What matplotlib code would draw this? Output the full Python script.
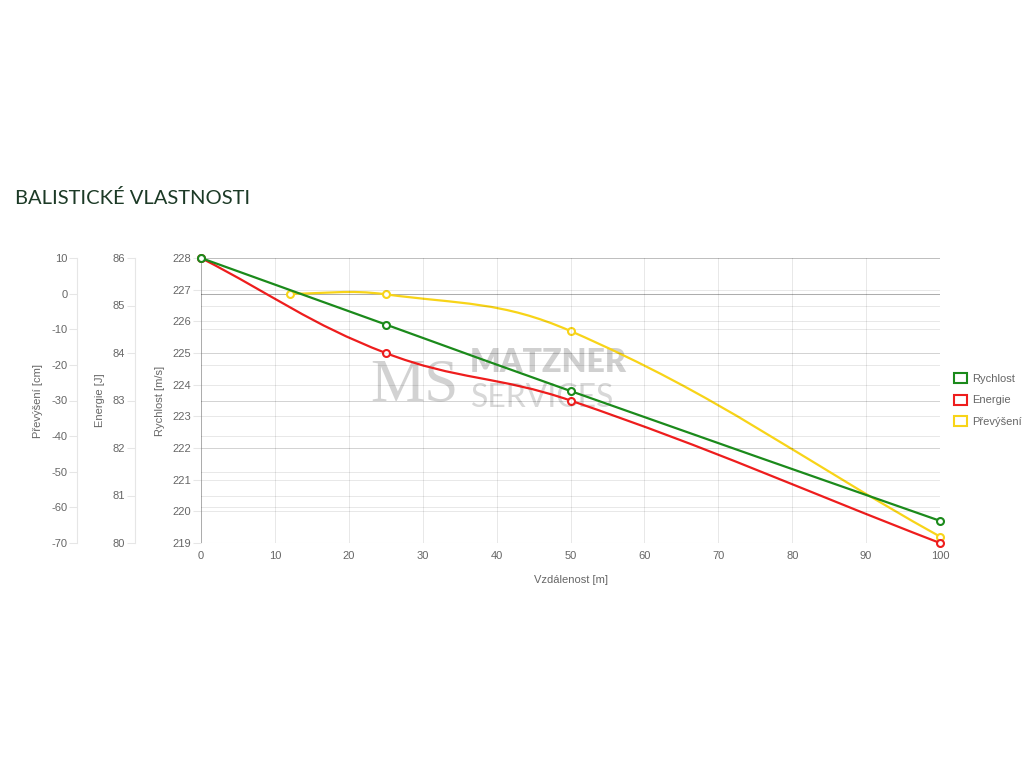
import numpy as np
import matplotlib
matplotlib.use("Agg")
from matplotlib import pyplot as plt
from matplotlib.path import Path
from matplotlib.patches import PathPatch, Patch

# data
dist_rych = [0, 25, 50, 100]
rychlost = [228, 225.9, 223.8, 219.7]
dist_ener = [0, 25, 50, 100]
energie = [86, 84.0, 83.0, 80.0]
dist_prev = [12, 25, 50, 100]
prevyseni = [0, -0.2, -10.5, -68.2]

x_ticks = list(range(0, 101, 10))
rych_ticks = list(range(219, 229))
ener_ticks = list(range(80, 87))
prev_ticks = list(range(-70, 11, 10))

c_green = '#1b8a1b'
c_red = '#ee1d1d'
c_yellow = '#f8d418'
txt_c = '#666666'
tick_c = '#e6e6e6'

plt.rcParams['font.family'] = ['Liberation Sans', 'DejaVu Sans']
plt.rcParams['axes.unicode_minus'] = False


def spline_path(ax, xs, ys, t=0.4):
    # chart.js style bezier (tension 0.4), control points computed in pixel space
    pts = ax.transData.transform(np.column_stack([xs, ys]))
    n = len(pts)
    cp_prev, cp_next = [], []
    for i in range(n):
        cur = pts[i]
        prv = pts[i-1] if i > 0 else cur
        nxt = pts[i+1] if i < n-1 else cur
        d01 = np.hypot(*(cur-prv))
        d12 = np.hypot(*(nxt-cur))
        tot = d01+d12
        s01 = d01/tot if tot else 0
        s12 = d12/tot if tot else 0
        cp_prev.append(cur-t*s01*(nxt-prv))
        cp_next.append(cur+t*s12*(nxt-prv))
    verts = [pts[0]]
    codes = [Path.MOVETO]
    for i in range(n-1):
        verts += [cp_next[i], cp_prev[i+1], pts[i+1]]
        codes += [Path.CURVE4]*3
    verts = ax.transData.inverted().transform(np.array(verts))
    return Path(verts, codes)


fig = plt.figure(figsize=(10.24, 7.68), dpi=100)
L, R, T, B = 201/1024, 940/1024, 1-258/768, 1-543/768
rect = [L, B, R-L, T-B]

ax_p = fig.add_axes(rect, zorder=1)
ax_e = fig.add_axes(rect, zorder=2, sharex=ax_p)
ax = fig.add_axes(rect, zorder=3, sharex=ax_p)

for a in (ax, ax_e, ax_p):
    a.set_facecolor('none')
    for s in a.spines.values():
        s.set_visible(False)

ax.set_xlim(0, 100)
ax.set_xticks(x_ticks)
ax.set_ylim(219, 228)
ax.set_yticks(rych_ticks)
ax_e.set_ylim(80, 86)
ax_e.set_yticks(ener_ticks)
ax_p.set_ylim(-70, 10)
ax_p.set_yticks(prev_ticks)

ax.tick_params(axis='x', length=0, pad=6, labelsize=8, labelcolor=txt_c)
ax.tick_params(axis='y', length=6, width=0.75, color=tick_c, pad=1, labelsize=8, labelcolor=txt_c)
for a in (ax_e, ax_p):
    a.tick_params(axis='x', bottom=False, labelbottom=False)
    a.tick_params(axis='y', left=True, labelleft=True, right=False, labelright=False,
                  length=6, width=0.75, color=tick_c, pad=1, labelsize=8, labelcolor=txt_c)

# grid lines of every axis
for a in (ax, ax_e, ax_p):
    a.tick_params(grid_color='black', grid_alpha=0.09, grid_linewidth=0.75)
ax.grid(True, axis='both')
ax_e.grid(True, axis='y')
ax_p.grid(True, axis='y')
ax_p.axhline(0, color='black', alpha=0.25, lw=0.75)
ax.axvline(0, color='black', alpha=0.25, lw=0.75)
ax.axhline(219, color='black', alpha=0.1, lw=0.75)

ax_e.spines['left'].set_visible(True)
ax_e.spines['left'].set_position(('axes', -66/739))
ax_e.spines['left'].set_color(tick_c)
ax_p.spines['left'].set_visible(True)
ax_p.spines['left'].set_position(('axes', -124/739))
ax_p.spines['left'].set_color(tick_c)

ax.set_xlabel('Vzdálenost [m]', fontsize=8, color=txt_c, labelpad=10)
ax.set_ylabel('Rychlost [m/s]', fontsize=8, color=txt_c)
ax_e.set_ylabel('Energie [J]', fontsize=8, color=txt_c)
ax_p.set_ylabel('Převýšení [cm]', fontsize=8, color=txt_c)
ax.yaxis.set_label_coords(-36/739, 0.5)
ax_e.yaxis.set_label_coords(-96/739, 0.5)
ax_p.yaxis.set_label_coords(-158/739, 0.5)

# series
for a, xs, ys, c in ((ax_p, dist_prev, prevyseni, c_yellow),
                     (ax_e, dist_ener, energie, c_red),
                     (ax, dist_rych, rychlost, c_green)):
    a.add_patch(PathPatch(spline_path(a, xs, ys), fill=False, edgecolor=c, lw=1.6, zorder=4))
    a.plot(xs, ys, 'o', ls='none', ms=5, mfc='white', mec=c, mew=1.5, zorder=5, clip_on=False)

# watermark
fig.text(414/1024, 1-386/768, 'MS', fontsize=44, family='Liberation Serif', color='#d2d2d2',
         ha='center', va='center', zorder=-1)
fig.text(470/1024, 1-362/768, 'MATZNER', fontsize=23, family='Lato', weight='heavy',
         color='#d0d0d0', ha='left', va='center', zorder=-1)
fig.text(471/1024, 1-398/768, 'SERVICES', fontsize=23, family='Lato',
         color='#d8d8d8', ha='left', va='center', zorder=-1)

# title
fig.text(15/1024, 1-198/768, 'BALISTICKÉ VLASTNOSTI', fontsize=14.5, family='Lato',
         color='#1c3a26', ha='left', va='center')

handles = [Patch(facecolor='white', edgecolor=c_green, lw=1.5, label='Rychlost'),
           Patch(facecolor='white', edgecolor=c_red, lw=1.5, label='Energie'),
           Patch(facecolor='white', edgecolor=c_yellow, lw=1.5, label='Převýšení')]
fig.legend(handles=handles, loc='center left', bbox_to_anchor=(948/1024, 1-400/768),
           frameon=False, fontsize=8, labelcolor=txt_c, handlelength=1.2, handleheight=1.0,
           handletextpad=0.5, labelspacing=0.95, borderpad=0)

plt.savefig('out.png', dpi=100, facecolor='white')
plt.close()
